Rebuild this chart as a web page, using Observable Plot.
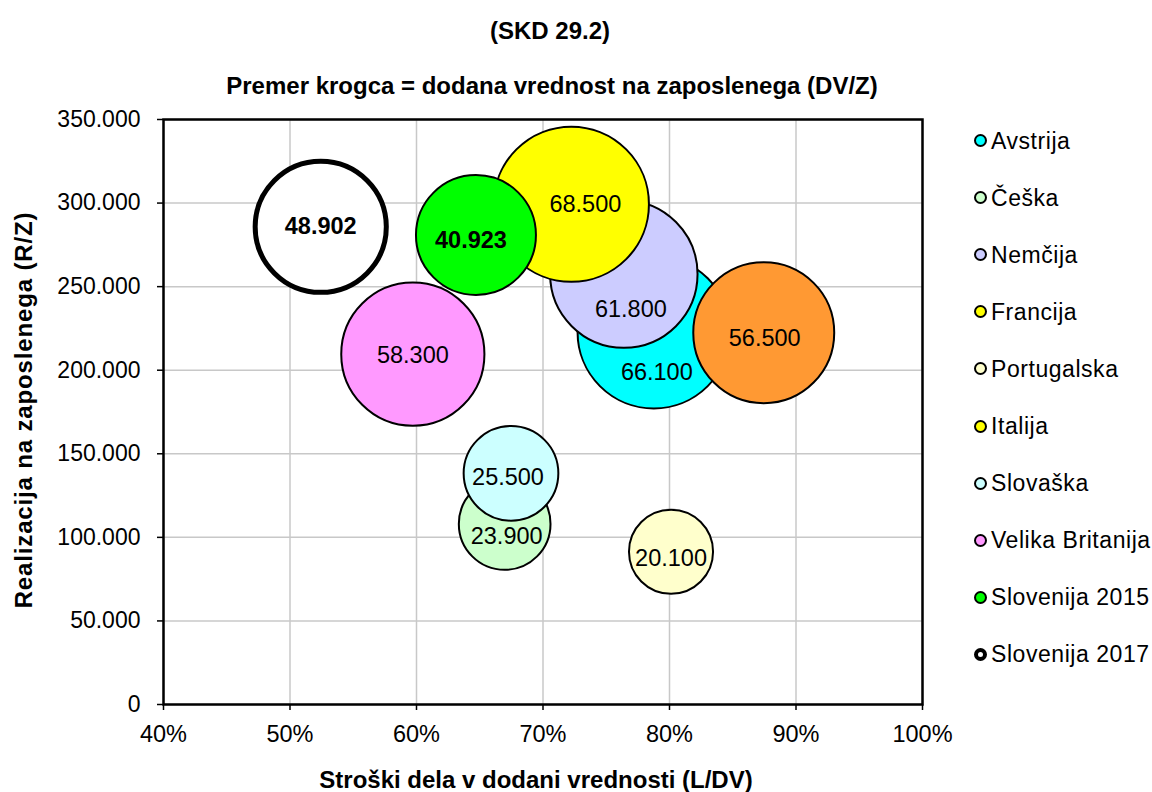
<!DOCTYPE html>
<html>
<head>
<meta charset="utf-8">
<script src="https://cdn.jsdelivr.net/npm/d3@7"></script>
<script src="https://cdn.jsdelivr.net/npm/@observablehq/plot@0.6"></script>
<style>
  body { margin: 0; background: #fff; }
  #chart { position: relative; width: 1152px; height: 792px; font-family: "Liberation Sans", Arial, sans-serif; color: #000; overflow: hidden; }
  #chart svg { position: absolute; left: 0; top: 0; }
  .ttl { position: absolute; white-space: nowrap; font-weight: bold; font-size: 24px; line-height: 24px; transform: translateX(-50%); }
  .ytitle { position: absolute; white-space: nowrap; font-weight: bold; font-size: 24px; line-height: 24px; letter-spacing: 0.85px; transform: translate(-50%, -50%) rotate(-90deg); }
  .leg { position: absolute; display: flex; align-items: center; height: 24px; white-space: nowrap; }
  .leg .mk { box-sizing: border-box; width: 13px; height: 13px; border-radius: 50%; border: 2px solid #000; flex: none; }
  .leg .lb { margin-left: 4px; font-size: 23px; line-height: 24px; letter-spacing: 0.55px; }
</style>
</head>
<body>
<div id="chart">
  <div class="ttl" style="left:550px; top:19px;">(SKD 29.2)</div>
  <div class="ttl" style="left:552px; top:74px;">Premer krogca = dodana vrednost na zaposlenega (DV/Z)</div>
  <div class="ttl" style="left:536px; top:768px;">Stroški dela v dodani vrednosti (L/DV)</div>
  <div class="ytitle" style="left:23.5px; top:410px;">Realizacija na zaposlenega (R/Z)</div>
</div>
<script>
// ---- data ----
const countries = ["Avstrija", "Češka", "Nemčija", "Francija", "Portugalska", "Italija", "Slovaška", "Velika Britanija", "Slovenija 2015", "Slovenija 2017"];
const laborCostShare = [0.7876, 0.6697, 0.7639, 0.7224, 0.8012, 0.8745, 0.6747, 0.5971, 0.6470, 0.5243];
const revenuePerEmployee = [222750, 108000, 257500, 299300, 91400, 222450, 138300, 209600, 280900, 285800];
const valueAddedPerEmployee = [66100, 23900, 61800, 68500, 20100, 56500, 25500, 58300, 40923, 48902];
const xTicks = [0.4, 0.5, 0.6, 0.7, 0.8, 0.9, 1.0];
const yTicks = [0, 50000, 100000, 150000, 200000, 250000, 300000, 350000];

// ---- styles ----
const bubbleFill = {
  "Avstrija": "#00FFFF", "Češka": "#CCFFCC", "Nemčija": "#CCCCFF", "Francija": "#FFFF00",
  "Portugalska": "#FFFFCC", "Italija": "#FF9933", "Slovaška": "#CCFFFF",
  "Velika Britanija": "#FF99FF", "Slovenija 2015": "#00FF00", "Slovenija 2017": "#FFFFFF"
};
const legendFill = Object.assign({}, bubbleFill, { "Italija": "#FFFF00" });
const labelNudge = {
  "Avstrija": [3, 40], "Češka": [2, 12], "Nemčija": [7, 35], "Francija": [14, 0],
  "Portugalska": [0, 7], "Italija": [1, 6], "Slovaška": [-3, 4], "Velika Britanija": [0, 1],
  "Slovenija 2015": [-5, 5], "Slovenija 2017": [0, 0]
};
const boldSeries = new Set(["Slovenija 2015", "Slovenija 2017"]);

const loc = d3.formatLocale({ decimal: ",", thousands: ".", grouping: [3], currency: ["", "€"] });
const fmtNum = loc.format(",d");
const fmtPct = d3.format(".0%");

const rows = countries.map((c, i) => ({ country: c, x: laborCostShare[i], y: revenuePerEmployee[i], dv: valueAddedPerEmployee[i] }));

const labelMarks = rows.map(d => Plot.text([d], {
  x: "x", y: "y", text: r => fmtNum(r.dv),
  dx: labelNudge[d.country][0], dy: labelNudge[d.country][1],
  fontSize: 23.5, fontWeight: boldSeries.has(d.country) ? "bold" : "normal", fill: "#000"
}));

const chart = Plot.plot({
  width: 1152, height: 792,
  marginTop: 119, marginBottom: 88, marginLeft: 163, marginRight: 230,
  style: { fontFamily: '"Liberation Sans", Arial, sans-serif', fontSize: "23px", color: "#000", background: "transparent", overflow: "visible" },
  x: { domain: [0.4, 1.0] },
  y: { domain: [0, 350000] },
  r: { type: "sqrt", domain: [0, 68500], range: [0, 77.6] },
  color: { type: "identity" },
  marks: [
    Plot.gridX(xTicks, { stroke: "#c8c8c8", strokeOpacity: 1, strokeWidth: 1.5 }),
    Plot.gridY(yTicks, { stroke: "#c8c8c8", strokeOpacity: 1, strokeWidth: 1.5 }),
    Plot.axisX(xTicks, { tickSize: 6, tickPadding: 15, tickFormat: fmtPct, label: null, strokeWidth: 1.5, fontSize: 23.5 }),
    Plot.axisY(yTicks, { tickSize: 6, tickPadding: 17, tickFormat: fmtNum, label: null, strokeWidth: 1.5, fontSize: 23 }),
    Plot.dot(rows, {
      x: "x", y: "y", r: "dv",
      fill: d => bubbleFill[d.country],
      stroke: "#000",
      strokeWidth: d => d.country === "Slovenija 2017" ? 5 : 2,
      fillOpacity: 1,
      sort: null
    }),
    ...labelMarks,
    Plot.frame({ stroke: "#000", strokeWidth: 2.5 })
  ]
});

const host = document.getElementById("chart");
host.insertBefore(chart, host.firstChild);

// legend
countries.forEach((c, i) => {
  const item = document.createElement("div");
  item.className = "leg";
  item.style.left = "974px";
  item.style.top = (140.7 + 57.07 * i - 12) + "px";
  const mk = document.createElement("span");
  mk.className = "mk";
  mk.style.background = legendFill[c];
  if (c === "Slovenija 2017") mk.style.borderWidth = "4px";
  const lb = document.createElement("span");
  lb.className = "lb";
  lb.textContent = c;
  item.appendChild(mk);
  item.appendChild(lb);
  host.appendChild(item);
});
</script>
</body>
</html>
